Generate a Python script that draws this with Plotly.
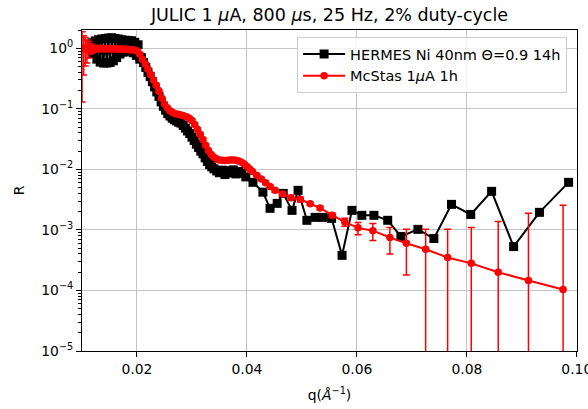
import plotly.graph_objects as go

# ---------------- data ----------------
hermes_q = [
    0.0118, 0.0121, 0.0124, 0.0127, 0.0130, 0.0133, 0.0136, 0.0139, 0.0142, 0.0145,
    0.0148, 0.0151, 0.0154, 0.0157, 0.0160, 0.0163, 0.0166, 0.0169, 0.0172, 0.0175,
    0.0178, 0.0181, 0.0184, 0.0187, 0.0190, 0.0193, 0.0196, 0.0199, 0.0202, 0.0205,
    0.0208, 0.0212, 0.0216, 0.0220, 0.0224, 0.0228, 0.0232, 0.0236, 0.0240, 0.0244,
    0.0248, 0.0252, 0.0256, 0.0260, 0.0264, 0.0268, 0.0272, 0.0276, 0.0280, 0.0284,
    0.0288, 0.0292, 0.0296, 0.0300, 0.0304, 0.0308, 0.0312, 0.0316, 0.0320, 0.0324,
    0.0328, 0.0332, 0.0336, 0.0340, 0.0345, 0.0350, 0.0355, 0.0360, 0.0365, 0.0370,
    0.0375, 0.0380, 0.0385, 0.0390, 0.0398, 0.0411, 0.0429, 0.0442, 0.0455, 0.0466,
    0.0482, 0.0493, 0.0509, 0.0524, 0.0538, 0.0554, 0.0573, 0.0591, 0.0609, 0.0631,
    0.0656, 0.0680, 0.0711, 0.0740, 0.0772, 0.0807, 0.0845, 0.0885, 0.0932, 0.0985,
]
hermes_R = [
    1.23, 0.82, 1.32, 0.66, 1.38, 0.59, 1.42, 0.57, 1.44, 0.57,
    1.47, 0.58, 1.49, 0.62, 1.45, 0.70, 1.42, 0.80, 1.38, 0.86,
    1.36, 0.90, 1.34, 0.90, 1.33, 0.84, 1.25, 0.76, 1.14, 0.66,
    0.70, 0.58, 0.48, 0.40, 0.34, 0.28, 0.23, 0.19, 0.16, 0.13,
    0.11, 0.095, 0.083, 0.076, 0.070, 0.066, 0.063, 0.060, 0.058, 0.053,
    0.048, 0.043, 0.039, 0.034, 0.030, 0.026, 0.023, 0.020, 0.018, 0.0155,
    0.0135, 0.012, 0.011, 0.0102, 0.0094, 0.0088, 0.0097, 0.0082, 0.0095, 0.0087,
    0.0098, 0.0084, 0.0092, 0.0086, 0.0075, 0.0061, 0.0042, 0.00227, 0.00274, 0.0040,
    0.0021, 0.0045, 0.00144, 0.00161, 0.00161, 0.00155, 0.00038, 0.0021, 0.00174, 0.00174,
    0.00144, 0.00078, 0.00102, 0.00072, 0.00264, 0.0018, 0.00433, 0.00053, 0.00195, 0.0061,
]

mcstas_q = [
    0.0100, 0.0103, 0.0106, 0.0109, 0.0112, 0.0115, 0.0118, 0.0121, 0.0124, 0.0127,
    0.0130, 0.0133, 0.0136, 0.0139, 0.0142, 0.0145, 0.0148, 0.0151, 0.0154, 0.0157,
    0.0160, 0.0163, 0.0166, 0.0169, 0.0172, 0.0175, 0.0178, 0.0181, 0.0184, 0.0187,
    0.0190, 0.0193, 0.0196, 0.0200, 0.0205, 0.0210, 0.0215, 0.0220, 0.0225, 0.0230,
    0.0235, 0.0240, 0.0245, 0.0250, 0.0255, 0.0260, 0.0265, 0.0270, 0.0275, 0.0280,
    0.0285, 0.0290, 0.0295, 0.0300, 0.0305, 0.0310, 0.0315, 0.0320, 0.0325, 0.0330,
    0.0335, 0.0340, 0.0345, 0.0350, 0.0355, 0.0360, 0.0365, 0.0370, 0.0375, 0.0380,
    0.0385, 0.0390, 0.0395, 0.0400, 0.0405, 0.0410, 0.0418, 0.0426, 0.0434, 0.0442,
    0.0451, 0.0465, 0.0480, 0.0497, 0.0515, 0.0533, 0.0555, 0.0578, 0.0602, 0.0629,
    0.0660, 0.0690, 0.0725, 0.0765, 0.0808, 0.0857, 0.0912, 0.0975,
]
mcstas_R = [
    1.00, 0.98, 1.01, 0.97, 0.99, 1.00, 0.98, 0.99, 0.97, 1.00,
    0.98, 0.99, 1.00, 0.97, 0.98, 0.99, 0.98, 0.97, 0.99, 0.98,
    0.97, 0.98, 0.97, 0.96, 0.97, 0.96, 0.95, 0.96, 0.95, 0.94,
    0.95, 0.94, 0.93, 0.90, 0.80, 0.66, 0.55, 0.45, 0.37, 0.30,
    0.245, 0.195, 0.15, 0.12, 0.104, 0.093, 0.087, 0.083, 0.081, 0.079,
    0.077, 0.074, 0.070, 0.064, 0.055, 0.046, 0.038, 0.031, 0.025, 0.0205,
    0.0175, 0.0158, 0.0148, 0.0143, 0.0141, 0.0140, 0.0141, 0.0142, 0.0142, 0.0141,
    0.0137, 0.0131, 0.0122, 0.0111, 0.0101, 0.0092, 0.0080, 0.0069, 0.0060, 0.0052,
    0.0045, 0.0039, 0.0034, 0.0032, 0.0027, 0.0023, 0.00175, 0.00135, 0.00108, 0.00097,
    0.00075, 0.00060, 0.00048, 0.00035, 0.00028, 0.00020, 0.000146, 0.000104,
]
mcstas_err = [
    0.87, 0.62, 0.50, 0.40, 0.30, 0.20, 0.15, 0.12, 0.10, 0.10,
    0.09, 0.09, 0.09, 0.08, 0.08, 0.08, 0.08, 0.08, 0.07, 0.07,
    0.07, 0.07, 0.07, 0.07, 0.06, 0.06, 0.06, 0.06, 0.06, 0.06,
    0.06, 0.05, 0.05, 0.05, 0.04, 0.03, 0.03, 0.02, 0.02, 0.015,
    0.012, 0.01, 0.008, 0.006, 0.005, 0.004, 0.004, 0.004, 0.004, 0.004,
    0.004, 0.004, 0.003, 0.003, 0.003, 0.002, 0.002, 0.0015, 0.0012, 0.001,
    0.0008, 0.0007, 0.0007, 0.0006, 0.0006, 0.0006, 0.0006, 0.0006, 0.0006, 0.0006,
    0.0006, 0.0005, 0.0005, 0.0005, 0.0005, 0.0004, 0.0004, 0.0004, 0.0003, 0.0003,
    0.0003, 0.0003, 0.0003, 0.0003, 0.00015, 0.00015, 0.00015, 0.0002, 0.00025, 0.0003,
    0.00035, 0.00042, 0.00054, 0.00067, 0.00082, 0.00118, 0.00173, 0.00244,
]

x_tickvals = [0.02, 0.04, 0.06, 0.08, 0.10]
x_ticktext = ["0.02", "0.04", "0.06", "0.08", "0.10"]
y_exponents = [-5, -4, -3, -2, -1, 0]
y_ticktext = ["10<sup>\u22125</sup>", "10<sup>\u22124</sup>", "10<sup>\u22123</sup>",
              "10<sup>\u22122</sup>", "10<sup>\u22121</sup>", "10<sup>0</sup>"]

title_text = "JULIC 1 <i>\u03bc</i>A, 800 <i>\u03bc</i>s, 25 Hz, 2% duty-cycle"
hermes_name = "HERMES Ni 40nm \u0398=0.9 14h"
mcstas_name = "McStas 1<i>\u03bc</i>A 1h"

# ---------------- figure ----------------
FONT = "DejaVu Sans"
fig = go.Figure()

fig.add_trace(go.Scatter(
    x=hermes_q, y=hermes_R, name=hermes_name, mode="lines+markers",
    line=dict(color="black", width=2),
    marker=dict(symbol="square", size=9, color="black"),
))
fig.add_trace(go.Scatter(
    x=mcstas_q, y=mcstas_R, name=mcstas_name, mode="lines+markers",
    line=dict(color="#ff0000", width=2),
    marker=dict(symbol="circle", size=7.5, color="#ff0000"),
    error_y=dict(type="data", array=mcstas_err, symmetric=True,
                 color="#ff0000", thickness=1.5, width=3.5),
))

y_tickvals = [10.0 ** e for e in y_exponents]
y_minor = [m * 10.0 ** e for e in y_exponents[:-1] for m in range(2, 10)] + [2.0]

fig.update_layout(
    width=588, height=409,
    margin=dict(l=82, r=11, t=30, b=58, autoexpand=False),
    paper_bgcolor="white", plot_bgcolor="white",
    font=dict(family=FONT, size=13.9, color="black"),
    title=dict(text=title_text, x=0.5, xref="paper", xanchor="center",
               y=1 - 15 / 409, yref="container", yanchor="middle",
               font=dict(family=FONT, size=17.5, color="black")),
    showlegend=True,
    legend=dict(x=0.98, y=0.978, xanchor="right", yanchor="top",
                bgcolor="rgba(255,255,255,0.8)", bordercolor="#cccccc", borderwidth=1,
                font=dict(family=FONT, size=14.5, color="black"),
                itemwidth=42, tracegroupgap=0),
)

fig.update_xaxes(
    range=[0.01, 0.10003], tickmode="array", tickvals=x_tickvals, ticktext=x_ticktext,
    ticklabeloverflow="allow", automargin=False,
    showgrid=True, gridcolor="#c4c4c4", gridwidth=1,
    showline=True, linecolor="black", linewidth=1, mirror=True,
    ticks="outside", ticklen=5, tickwidth=1, tickcolor="black",
    zeroline=False,
    title=dict(text="q(<i>\u00c5</i><sup>\u22121</sup>)", font=dict(family=FONT, size=13.9),
               standoff=14),
)
fig.update_yaxes(
    type="log", range=[-5, 0.30103], tickmode="array",
    tickvals=y_tickvals, ticktext=y_ticktext,
    automargin=False,
    showgrid=True, gridcolor="#c4c4c4", gridwidth=1,
    showline=True, linecolor="black", linewidth=1, mirror=True,
    ticks="outside", ticklen=5, tickwidth=1, tickcolor="black",
    minor=dict(tickmode="array", tickvals=y_minor, ticks="outside", ticklen=3,
               tickcolor="black", tickwidth=1, showgrid=False),
    zeroline=False,
    title=dict(text="R", font=dict(family=FONT, size=13.9), standoff=13),
)

fig.write_html("out.html")
